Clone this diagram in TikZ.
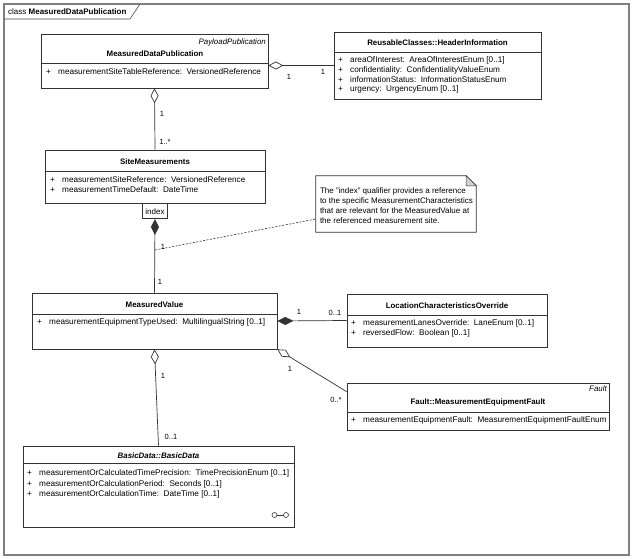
\documentclass[tikz,border=0pt]{standalone}
\usepackage{fontspec}
\setmainfont{Liberation Sans}
\usetikzlibrary{arrows.meta}
\usetikzlibrary{positioning}

\tikzset{
  umlclass/.style={draw=black!80, line width=0.7pt, fill=white, inner sep=0pt},
  clsname/.style={font=\fontsize{7.9}{9}\selectfont\bfseries, inner sep=0pt},
  stereo/.style={font=\fontsize{7.9}{9}\selectfont\itshape, inner sep=0pt, anchor=east},
  attr/.style={font=\fontsize{8.2}{9}\selectfont, inner sep=0pt, anchor=west},
  mult/.style={font=\fontsize{7.5}{8}\selectfont, inner sep=0pt},
  assoc/.style={draw=black!80, line width=0.7pt},
  aggr/.style={assoc, {Diamond[open, length=15pt, width=8pt]}-},
  compo/.style={assoc, {Diamond[length=16pt, width=8pt]}-},
}
\newcommand{\plusattr}[1]{\makebox[12pt][l]{+}#1}

\begin{document}
\begin{tikzpicture}[x=1pt, y=-1pt]
  \useasboundingbox (0,0) rectangle (633,559);
  \fill[white] (0,0) rectangle (633,559);

  % frame
  \draw[gray, line width=1.2pt] (4,4) rectangle (629,555);
  \node[attr, font=\fontsize{8}{9}\selectfont] (tab) at (8,12) {class \textbf{MeasuredDataPublication}};
  \draw[black!70, line width=0.6pt] (4,19) -- (130,19) -- (140,4);

  % classes
  \node[umlclass, minimum width=227pt, minimum height=54pt] (mdp) at (154.5,61) {};
  \draw[black!80, line width=0.7pt] (mdp.west |- 0,63) -- (mdp.east |- 0,63);
  \node[stereo] (mdpst) at (266,42) {PayloadPublication};
  \node[clsname] (mdpname) at (155,54) {MeasuredDataPublication};
  \node[attr] (mdpa1) at (46,72) {\plusattr{measurementSiteTableReference:\ \ VersionedReference}};

  \node[umlclass, minimum width=207pt, minimum height=67pt] (hdr) at (437.5,65.5) {};
  \draw[black!80, line width=0.7pt] (hdr.west |- 0,52) -- (hdr.east |- 0,52);
  \node[clsname] (hdrname) at (437.5,43) {ReusableClasses::HeaderInformation};
  \node[attr] (hdra1) at (338,60) {\plusattr{areaOfInterest:\ \ AreaOfInterestEnum [0..1]}};
  \node[attr] (hdra2) at (338,70) {\plusattr{confidentiality:\ \ ConfidentialityValueEnum}};
  \node[attr] (hdra3) at (338,80) {\plusattr{informationStatus:\ \ InformationStatusEnum}};
  \node[attr] (hdra4) at (338,89) {\plusattr{urgency:\ \ UrgencyEnum [0..1]}};

  \node[umlclass, minimum width=220pt, minimum height=53pt] (sm) at (155,176.5) {};
  \draw[black!80, line width=0.7pt] (sm.west |- 0,171) -- (sm.east |- 0,171);
  \node[clsname] (smname) at (155,162) {SiteMeasurements};
  \node[attr] (sma1) at (50,180) {\plusattr{measurementSiteReference:\ \ VersionedReference}};
  \node[attr] (sma2) at (50,190) {\plusattr{measurementTimeDefault:\ \ DateTime}};
  \node[umlclass, minimum width=25pt, minimum height=15pt, font=\fontsize{8}{9}\selectfont,
        anchor=north] (idx) at (sm.south) {index};

  \node[umlclass, minimum width=245pt, minimum height=56pt] (mv) at (154.5,321) {};
  \draw[black!80, line width=0.7pt] (mv.west |- 0,314) -- (mv.east |- 0,314);
  \node[clsname] (mvname) at (154.5,305) {MeasuredValue};
  \node[attr] (mva1) at (37,322) {\plusattr{measurementEquipmentTypeUsed:\ \ MultilingualString [0..1]}};

  \node[umlclass, minimum width=200pt, minimum height=53pt] (lco) at (447,320.5) {};
  \draw[black!80, line width=0.7pt] (lco.west |- 0,315) -- (lco.east |- 0,315);
  \node[clsname] (lconame) at (447,305.5) {LocationCharacteristicsOverride};
  \node[attr] (lcoa1) at (351,323) {\plusattr{measurementLanesOverride:\ \ LaneEnum [0..1]}};
  \node[attr] (lcoa2) at (351,333) {\plusattr{reversedFlow:\ \ Boolean [0..1]}};

  \node[umlclass, minimum width=262pt, minimum height=47pt] (flt) at (478,406.5) {};
  \draw[black!80, line width=0.7pt] (flt.west |- 0,412) -- (flt.east |- 0,412);
  \node[stereo] (fltst) at (607,389) {Fault};
  \node[clsname] (fltname) at (478,402) {Fault::MeasurementEquipmentFault};
  \node[attr] (flta1) at (351,420) {\plusattr{measurementEquipmentFault:\ \ MeasurementEquipmentFaultEnum}};

  \node[umlclass, minimum width=271pt, minimum height=81pt] (bd) at (158.5,486.5) {};
  \draw[black!80, line width=0.7pt] (bd.west |- 0,463) -- (bd.east |- 0,463);
  \node[clsname, font=\fontsize{7.9}{9}\selectfont\bfseries\itshape] (bdname) at (158.5,456) {BasicData::BasicData};
  \node[attr] (bda1) at (27,473) {\plusattr{measurementOrCalculatedTimePrecision:\ \ TimePrecisionEnum [0..1]}};
  \node[attr] (bda2) at (27,484) {\plusattr{measurementOrCalculationPeriod:\ \ Seconds [0..1]}};
  \node[attr] (bda3) at (27,494) {\plusattr{measurementOrCalculationTime:\ \ DateTime [0..1]}};
  \draw[black!80, line width=0.6pt] (274.5,515) circle (2.5pt) (286,515) circle (2.5pt);
  \draw[black!80, line width=0.6pt] (277,515) -- (283.5,515);

  % note
  \node[inner sep=0pt, minimum width=160pt, minimum height=56pt] (note) at (396,204) {};
  \draw[black!80, line width=0.7pt, fill=white]
    (note.north west) -- ([xshift=-10pt]note.north east) -- ([yshift=-10pt]note.north east)
    -- (note.south east) -- (note.south west) -- cycle;
  \draw[black!80, line width=0.5pt, fill=gray!35]
    ([xshift=-10pt]note.north east) -- ([xshift=-10pt,yshift=-10pt]note.north east)
    -- ([yshift=-10pt]note.north east) -- cycle;
  \node[attr, anchor=north west, align=left, font=\fontsize{8}{10}\selectfont] (notetxt)
    at ([xshift=4pt,yshift=-12pt]note.north west)
    {The ''index'' qualifier provides a reference\\to the specific MeasurementCharacteristics\\
     that are relevant for the MeasuredValue at\\the referenced measurement site.};

  % connectors
  \draw[aggr] (mdp.east |- hdr.west) -- (hdr.west);
  \draw[aggr] (mdp.south) -- (sm.north);
  \draw[compo] (idx.south) -- (mv.north);
  \draw[compo] (mv.east) -- (lco.west);
  \draw[aggr] (mv.south east) -- ([yshift=-9pt]flt.north west);
  \draw[aggr] (mv.south) -- (bd.north);
  \coordinate (lnk) at (155,250);
  \draw[black!80, line width=0.6pt, dashed, dash pattern=on 2pt off 1.5pt] (lnk) -- ([yshift=-15pt]note.west);

  % multiplicities
  \node[mult] (m1) at (289,77) {1};
  \node[mult] (m2) at (323,72) {1};
  \node[mult] (m3) at (162,114) {1};
  \node[mult] (m4) at (165,142) {1..*};
  \node[mult] (m5) at (163,247) {1};
  \node[mult] (m6) at (160,282) {1};
  \node[mult] (m7) at (299,312) {1};
  \node[mult] (m8) at (335,313) {0..1};
  \node[mult] (m9) at (290,369) {1};
  \node[mult] (m10) at (336,400) {0..*};
  \node[mult] (m11) at (163,376) {1};
  \node[mult] (m12) at (171,437) {0..1};
\end{tikzpicture}
\end{document}
